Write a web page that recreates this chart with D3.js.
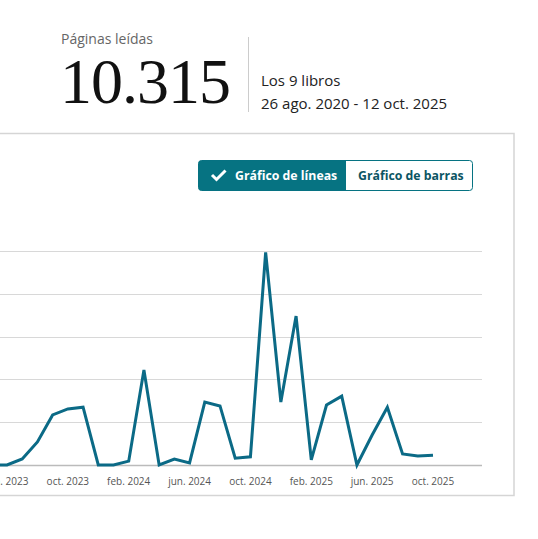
<!DOCTYPE html>
<html><head><meta charset="utf-8">
<script src="https://cdn.jsdelivr.net/npm/d3@7"></script>
<style>body{margin:0;background:#fff;overflow:hidden}</style></head>
<body><svg id="c" width="538" height="539"></svg>
<script>
const months = ["feb. 2023","mar. 2023","abr. 2023","may. 2023","jun. 2023","jul. 2023","ago. 2023","sept. 2023","oct. 2023","nov. 2023","dic. 2023","ene. 2024","feb. 2024","mar. 2024","abr. 2024","may. 2024","jun. 2024","jul. 2024","ago. 2024","sept. 2024","oct. 2024","nov. 2024","dic. 2024","ene. 2025","feb. 2025","mar. 2025","abr. 2025","may. 2025","jun. 2025","jul. 2025","ago. 2025","sept. 2025","oct. 2025"];
const pages = [0,0,0,0,0,14,54,117,131,135,0,0,9,222,0,14,5,147,138,16,19,497,147,348,12,140,161,0,70,135,26,21,23];
const tickLabels = ["jun. 2023","oct. 2023","feb. 2024","jun. 2024","oct. 2024","feb. 2025","jun. 2025","oct. 2025"];
const yTicks = [0,100,200,300,400,500];

const svg = d3.select("#c");
const font = "'Open Sans', 'Noto Sans', sans-serif";
svg.append("text").attr("x",61).attr("y",44).attr("font-family",font).attr("font-size",14).attr("fill","#666").text("Páginas leídas");
svg.append("text").attr("x",60).attr("y",103).attr("font-family","'Liberation Serif','DejaVu Serif',serif").attr("font-size",64).attr("fill","#111").attr("letter-spacing",-1).text("10.315");
svg.append("line").attr("x1",248.5).attr("x2",248.5).attr("y1",37).attr("y2",112).attr("stroke","#ccc");
svg.append("text").attr("x",261).attr("y",86).attr("font-family",font).attr("font-size",15).attr("fill","#222").text("Los 9 libros");
svg.append("text").attr("x",261).attr("y",109).attr("font-family",font).attr("font-size",15).attr("fill","#222").text("26 ago. 2020 - 12 oct. 2025");
svg.append("rect").attr("x",-10).attr("y",133.5).attr("width",524).attr("height",362).attr("fill","none").attr("stroke","#d5d5d5").attr("stroke-width",1.5);
const teal="#067382";
svg.append("rect").attr("x",198.5).attr("y",160.5).attr("width",274).attr("height",30).attr("rx",3).attr("fill","#fff").attr("stroke",teal);
svg.append("path").attr("d","M201.5,160.5 H346 V190.5 H201.5 a3,3 0 0 1 -3,-3 V163.5 a3,3 0 0 1 3,-3Z").attr("fill",teal);
svg.append("path").attr("d","M212,175 l4.5,4.5 l9,-9").attr("fill","none").attr("stroke","#fff").attr("stroke-width",3);
svg.append("text").attr("x",235).attr("y",180).attr("font-family",font).attr("font-weight",700).attr("font-size",12.3).attr("fill","#fff").text("Gráfico de líneas");
svg.append("text").attr("x",358).attr("y",180).attr("font-family",font).attr("font-weight",700).attr("font-size",12.3).attr("fill","#0b5563").text("Gráfico de barras");
const x0 = months.indexOf("jun. 2023"), x1 = months.indexOf("oct. 2025");
const x = d3.scaleLinear().domain([x0,x1]).range([7,433]);
const y = d3.scaleLinear().domain([0,500]).range([465,251]);
const g = svg.append("g");
g.selectAll("line.grid").data(yTicks).join("line").attr("x1",-10).attr("x2",482).attr("y1",d=>Math.round(y(d))+0.5).attr("y2",d=>Math.round(y(d))+0.5).attr("stroke",d=>d===0?"#bbb":"#d8d8d8").attr("stroke-width",d=>d===0?1.5:1);
g.selectAll("text.t").data(tickLabels).join("text").attr("x",d=>x(months.indexOf(d))).attr("y",485).attr("text-anchor","middle").attr("font-family",font).attr("font-size",10).attr("fill","#555").text(d=>d);
const line = d3.line().x((d,i)=>x(i)).y(d=>y(d));
g.append("path").datum(pages).attr("d",line).attr("fill","none").attr("stroke","#0b6a86").attr("stroke-width",3).attr("stroke-linejoin","miter");
</script></body></html>
